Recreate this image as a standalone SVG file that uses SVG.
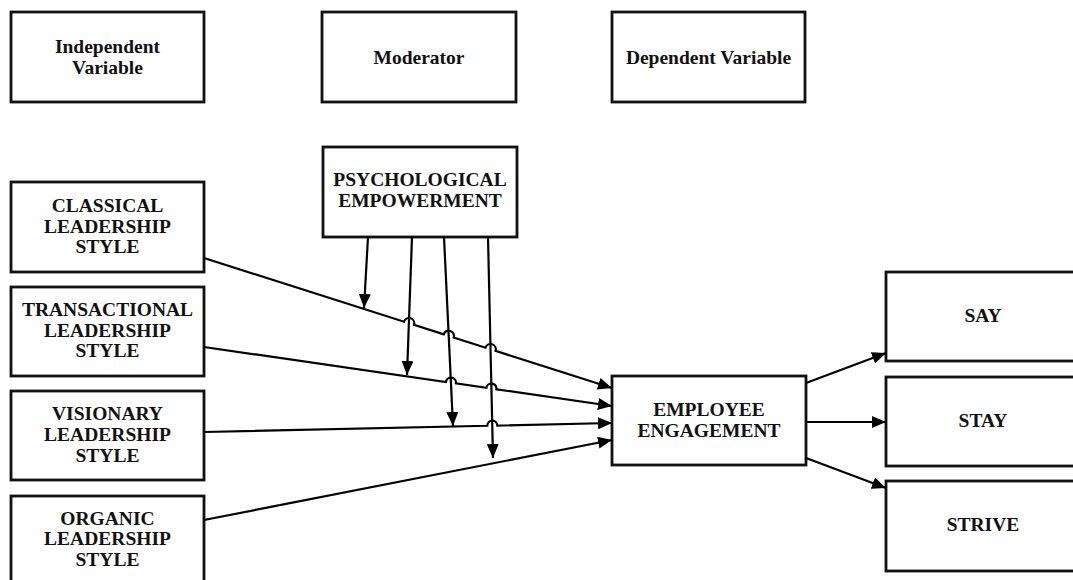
<svg xmlns="http://www.w3.org/2000/svg" width="1073" height="580" viewBox="0 0 1073 580">
  <style>
    .box { fill: #ffffff; stroke: #111111; stroke-width: 2.8; }
    .lbl { font-family: "Liberation Serif", "Times New Roman", serif; font-weight: bold; font-size: 19.5px; fill: #111111; text-anchor: middle; }
    .arr { fill: none; stroke: #000000; stroke-width: 2.2; marker-end: url(#head); }
  </style>
  <defs>
    <marker id="head" markerUnits="userSpaceOnUse" markerWidth="15" markerHeight="12" refX="14" refY="6" orient="auto">
      <path d="M0,0 L14,6 L0,12 Z" fill="#000000"/>
    </marker>
  </defs>
  <rect width="1073" height="580" fill="#ffffff"/>

  <!-- header boxes -->
  <g id="hdr-independent">
    <rect class="box" x="11" y="12" width="193" height="90"/>
    <text class="lbl" x="107.5" y="53">Independent</text>
    <text class="lbl" x="107.5" y="74">Variable</text>
  </g>
  <g id="hdr-moderator">
    <rect class="box" x="322" y="12" width="194" height="90"/>
    <text class="lbl" x="419" y="64">Moderator</text>
  </g>
  <g id="hdr-dependent">
    <rect class="box" x="612" y="12" width="193" height="90"/>
    <text class="lbl" x="708.5" y="64">Dependent Variable</text>
  </g>

  <!-- moderator -->
  <g id="psych-empowerment">
    <rect class="box" x="323" y="147" width="194" height="90"/>
    <text class="lbl" x="420" y="186">PSYCHOLOGICAL</text>
    <text class="lbl" x="420" y="207">EMPOWERMENT</text>
  </g>

  <!-- independent variables -->
  <g id="classical">
    <rect class="box" x="11" y="182" width="193" height="90"/>
    <text class="lbl" x="107.5" y="212">CLASSICAL</text>
    <text class="lbl" x="107.5" y="233">LEADERSHIP</text>
    <text class="lbl" x="107.5" y="253">STYLE</text>
  </g>
  <g id="transactional">
    <rect class="box" x="11" y="287" width="193" height="89"/>
    <text class="lbl" x="107.5" y="316">TRANSACTIONAL</text>
    <text class="lbl" x="107.5" y="337">LEADERSHIP</text>
    <text class="lbl" x="107.5" y="357">STYLE</text>
  </g>
  <g id="visionary">
    <rect class="box" x="11" y="391" width="193" height="89"/>
    <text class="lbl" x="107.5" y="420">VISIONARY</text>
    <text class="lbl" x="107.5" y="441">LEADERSHIP</text>
    <text class="lbl" x="107.5" y="462">STYLE</text>
  </g>
  <g id="organic">
    <rect class="box" x="11" y="496" width="193" height="100"/>
    <text class="lbl" x="107.5" y="525">ORGANIC</text>
    <text class="lbl" x="107.5" y="545">LEADERSHIP</text>
    <text class="lbl" x="107.5" y="566">STYLE</text>
  </g>

  <!-- dependent variable -->
  <g id="employee-engagement">
    <rect class="box" x="612" y="376" width="194" height="89"/>
    <text class="lbl" x="709" y="416">EMPLOYEE</text>
    <text class="lbl" x="709" y="437">ENGAGEMENT</text>
  </g>

  <!-- outcomes -->
  <g id="say">
    <rect class="box" x="886" y="272" width="200" height="89"/>
    <text class="lbl" x="983" y="322">SAY</text>
  </g>
  <g id="stay">
    <rect class="box" x="886" y="377" width="200" height="89"/>
    <text class="lbl" x="983" y="427">STAY</text>
  </g>
  <g id="strive">
    <rect class="box" x="886" y="481" width="200" height="90"/>
    <text class="lbl" x="983" y="531">STRIVE</text>
  </g>

  <!-- connectors -->
  <g id="connectors">
    <!-- styles to engagement, hopping over the moderator arrows -->
    <path class="arr" d="M204,258 L404,321.72 A5,5 0 0 1 414,324.91 L443.7,334.37 A5,5 0 0 1 453.7,337.56 L485.5,347.68 A5,5 0 0 1 495.5,350.87 L612,388"/>
    <path class="arr" d="M204,347 L445.9,381.98 A5,5 0 0 1 455.9,383.42 L486.4,387.83 A5,5 0 0 1 496.4,389.28 L612,406"/>
    <path class="arr" d="M204,432 L487.3,425.75 A5,5 0 0 1 497.3,425.53 L612,423"/>
    <path class="arr" d="M204,520 L612,440"/>

    <!-- moderator effects -->
    <path class="arr" d="M368,237 L364,308"/>
    <path class="arr" d="M412,237 L407,375"/>
    <path class="arr" d="M444,237 L453,426"/>
    <path class="arr" d="M488,237 L493,458"/>

    <!-- engagement to outcomes -->
    <path class="arr" d="M806,383 L886,353"/>
    <path class="arr" d="M806,422 L886,422"/>
    <path class="arr" d="M806,458 L886,488"/>
  </g>
</svg>
